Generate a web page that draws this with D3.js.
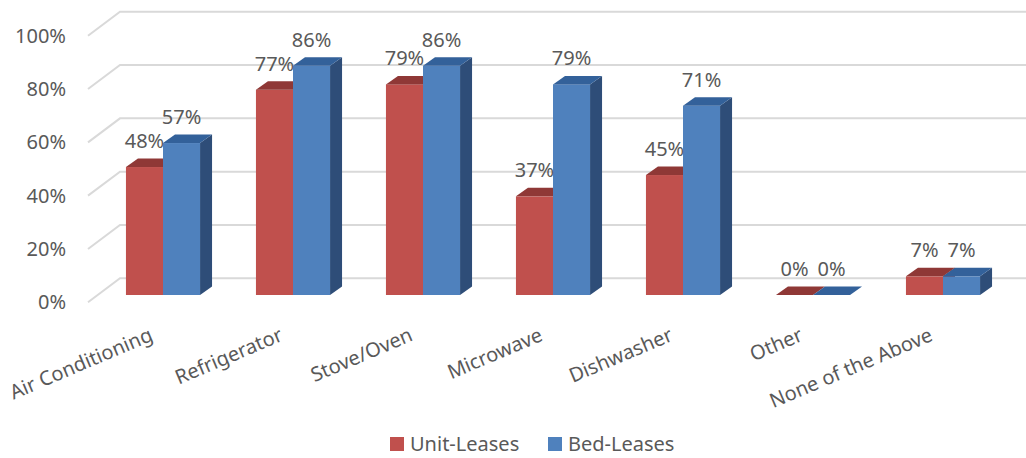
<!DOCTYPE html>
<html>
<head>
<meta charset="utf-8">
<script src="https://cdn.jsdelivr.net/npm/d3@7"></script>
<style>
  html, body { margin: 0; padding: 0; background: #ffffff; }
  svg { display: block; }
  text { font-family: "Noto Sans", "Open Sans", sans-serif; fill: #595959; }
</style>
</head>
<body>
<svg id="chart" width="1026" height="458"></svg>
<script>
// Appliance categories and the share of leases that include each one
const categories = ["Air Conditioning", "Refrigerator", "Stove/Oven", "Microwave", "Dishwasher", "Other", "None of the Above"];
const unitLeases = [0.48, 0.77, 0.79, 0.37, 0.45, 0.00, 0.07];
const bedLeases  = [0.57, 0.86, 0.86, 0.79, 0.71, 0.00, 0.07];
const seriesNames = ["Unit-Leases", "Bed-Leases"];
const yTicks = [0, 0.2, 0.4, 0.6, 0.8, 1.0];

const palette = {
  "Unit-Leases": { front: "#c0504d", top: "#8f3836", side: "#7a302e" },
  "Bed-Leases":  { front: "#4f81bd", top: "#33619a", side: "#2e4d78" }
};

const svg = d3.select("#chart");
const W = 1026;

// Pseudo-3D geometry: bar fronts sit partway into the floor
const baseY = 295;            // front-face baseline of bars
const plotH = 266.6;          // height of 100% on the bar fronts
const depthDx = 12, depthDy = 8.5;   // bar depth offset
const wall = { backOff: -16.7, frontOff: 7.3 };
const floorLeftFront = 88, floorLeftBack = 120;

const y = d3.scaleLinear().domain([0, 1]).range([baseY, baseY - plotH]);

const x = d3.scaleBand()
  .domain(categories)
  .range([98, 1008])
  .paddingInner(0.43)
  .paddingOuter(0.215);

const xs = d3.scaleBand()
  .domain(seriesNames)
  .range([0, x.bandwidth()]);

// Gridlines: short diagonal on the side wall, then across the back wall
const grid = svg.append("g").attr("class", "grid");
yTicks.forEach(t => {
  const yb = y(t) + wall.backOff;
  const yf = y(t) + wall.frontOff;
  grid.append("path")
    .attr("d", `M${floorLeftFront},${yf}L${floorLeftBack},${yb}L${W},${yb}`)
    .attr("fill", "none")
    .attr("stroke", "#d9d9d9")
    .attr("stroke-width", 2);
});

// Y-axis tick labels at the front edge of the side wall
const fmt = d3.format(".0%");
svg.append("g").attr("class", "y-axis")
  .selectAll("text")
  .data(yTicks)
  .join("text")
  .attr("x", 66)
  .attr("y", d => y(d) + wall.frontOff)
  .attr("dy", "0.35em")
  .attr("text-anchor", "end")
  .attr("font-size", 20)
  .text(d => fmt(d));

// Bars: per category, draw the unit-lease bar then the bed-lease bar
const rows = categories.map((c, i) => ({
  category: c,
  values: [
    { series: "Unit-Leases", value: unitLeases[i] },
    { series: "Bed-Leases", value: bedLeases[i] }
  ]
}));

const bars = svg.append("g").attr("class", "bars");
rows.forEach(row => {
  row.values.forEach(d => {
    const x0 = x(row.category) + xs(d.series);
    const w = xs.bandwidth();
    const yt = y(d.value);
    const yb = y(0);
    const col = palette[d.series];
    const g = bars.append("g");
    // right side face
    g.append("path")
      .attr("d", `M${x0 + w},${yt}L${x0 + w + depthDx},${yt - depthDy}L${x0 + w + depthDx},${yb - depthDy}L${x0 + w},${yb}Z`)
      .attr("fill", col.side);
    // front face
    if (yb - yt > 0) {
      g.append("rect")
        .attr("x", x0).attr("y", yt)
        .attr("width", w).attr("height", yb - yt)
        .attr("fill", col.front);
    }
    // top face
    g.append("path")
      .attr("d", `M${x0},${yt}L${x0 + w},${yt}L${x0 + w + depthDx},${yt - depthDy}L${x0 + depthDx},${yt - depthDy}Z`)
      .attr("fill", col.top);
  });
});

// Value labels above each bar
const labels = svg.append("g").attr("class", "labels");
rows.forEach(row => {
  row.values.forEach(d => {
    labels.append("text")
      .attr("x", x(row.category) + xs(d.series) + xs.bandwidth() / 2)
      .attr("y", y(d.value) - 19)
      .attr("text-anchor", "middle")
      .attr("font-size", 20)
      .text(fmt(d.value));
  });
});

// Rotated category labels
svg.append("g").attr("class", "x-axis")
  .selectAll("text")
  .data(categories)
  .join("text")
  .attr("text-anchor", "end")
  .attr("font-size", 20)
  .attr("transform", d => `translate(${x(d) + x.bandwidth() / 2 - 9},340) rotate(-23)`)
  .text(d => d);

// Legend
const legend = svg.append("g").attr("class", "legend");
const legendItems = [
  { name: "Unit-Leases", sx: 390, tx: 410 },
  { name: "Bed-Leases", sx: 548, tx: 568 }
];
legendItems.forEach(it => {
  legend.append("rect")
    .attr("x", it.sx).attr("y", 437)
    .attr("width", 14).attr("height", 14)
    .attr("fill", palette[it.name].front);
  legend.append("text")
    .attr("x", it.tx).attr("y", 451)
    .attr("font-size", 20)
    .text(it.name);
});
</script>
</body>
</html>
